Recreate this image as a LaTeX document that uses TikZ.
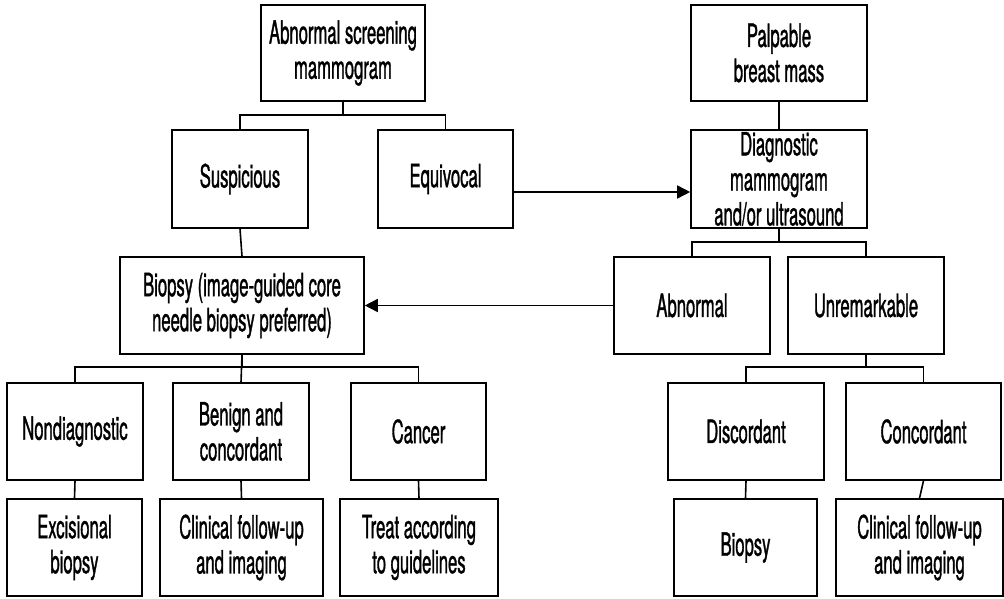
\documentclass[tikz,border=0pt]{standalone}
\usepackage{fontspec}
\setmainfont{TeX Gyre Heros}[FakeStretch=0.52,FakeBold=1]
\usetikzlibrary{arrows.meta}
\begin{document}
\begin{tikzpicture}[x=1pt,y=-1pt,
  every path/.style={line width=1.6pt},
  box/.style={draw, line width=1.6pt, inner sep=0pt, align=center,
    font=\fontsize{32}{35}\selectfont},
  arr/.style={-{Triangle[length=13pt,width=13pt]}}]
\useasboundingbox (0,0) rectangle (1004,599);

% top row
\node[box, minimum width=164pt, minimum height=96pt] (scr) at (343,53) {Abnormal screening\\mammogram};
\node[box, minimum width=176pt, minimum height=96pt] (pal) at (779,53) {Palpable\\breast mass};

% second row
\node[box, minimum width=136pt, minimum height=98pt] (sus) at (240,179) {Suspicious};
\node[box, minimum width=135pt, minimum height=98pt] (equ) at (445.5,179) {Equivocal};
\node[box, minimum width=176pt, minimum height=98pt] (dia) at (779,179) {Diagnostic\\mammogram\\and/or ultrasound};

% third row
\node[box, minimum width=244pt, minimum height=97pt] (bio) at (242,305.5) {Biopsy (image-guided core\\needle biopsy preferred)};
\node[box, minimum width=156pt, minimum height=97pt] (abn) at (692,305.5) {Abnormal};
\node[box, minimum width=156pt, minimum height=97pt] (unr) at (866,305.5) {Unremarkable};

% fourth row
\node[box, minimum width=136pt, minimum height=97pt] (non) at (75,431.5) {Nondiagnostic};
\node[box, minimum width=136pt, minimum height=97pt] (ben) at (241,431.5) {Benign and\\concordant};
\node[box, minimum width=135pt, minimum height=97pt] (can) at (418.5,431.5) {Cancer};
\node[box, minimum width=156pt, minimum height=97pt] (dis) at (746,431.5) {Discordant};
\node[box, minimum width=155pt, minimum height=97pt] (con) at (923.5,431.5) {Concordant};

% bottom row
\node[box, minimum width=135pt, minimum height=97pt] (exc) at (74.5,547.5) {Excisional\\biopsy};
\node[box, minimum width=163pt, minimum height=97pt] (cli) at (241.5,547.5) {Clinical follow-up\\and imaging};
\node[box, minimum width=158pt, minimum height=97pt] (tre) at (419,547.5) {Treat according\\to guidelines};
\node[box, minimum width=143pt, minimum height=97pt] (bio2) at (745.5,547.5) {Biopsy};
\node[box, minimum width=167pt, minimum height=97pt] (cli2) at (919.5,547.5) {Clinical follow-up\\and imaging};

% branch levels
\coordinate (b1) at (0,115);
\coordinate (b2) at (0,242);
\coordinate (b3) at (0,367);
\coordinate (ay) at (0,192);

% tree connectors
\draw (scr.south) -- (scr.south |- b1) -| (sus.north);
\draw (scr.south |- b1) -| (equ.north);
\draw (pal.south) -- (dia.north);
\draw (sus.south) -- (bio.north);
\draw (dia.south) -- (dia.south |- b2) -| (abn.north);
\draw (dia.south |- b2) -| (unr.north);
\draw (bio.south) -- (bio.south |- b3) -| (non.north);
\draw (bio.south |- b3) -| (can.north);
\draw (bio.south) -- (ben.north);
\draw (unr.south) -- (unr.south |- b3) -| (dis.north);
\draw (unr.south |- b3) -| (con.north);
\draw (non.south) -- (exc.north);
\draw (ben.south) -- (cli.north);
\draw (can.south) -- (tre.north);
\draw (dis.south) -- (bio2.north);
\draw (con.south) -- (cli2.north);

% cross arrows
\draw[arr] (equ.east |- ay) -- (dia.west |- ay);
\draw[arr] (abn.west) -- (bio.east);
\end{tikzpicture}
\end{document}
